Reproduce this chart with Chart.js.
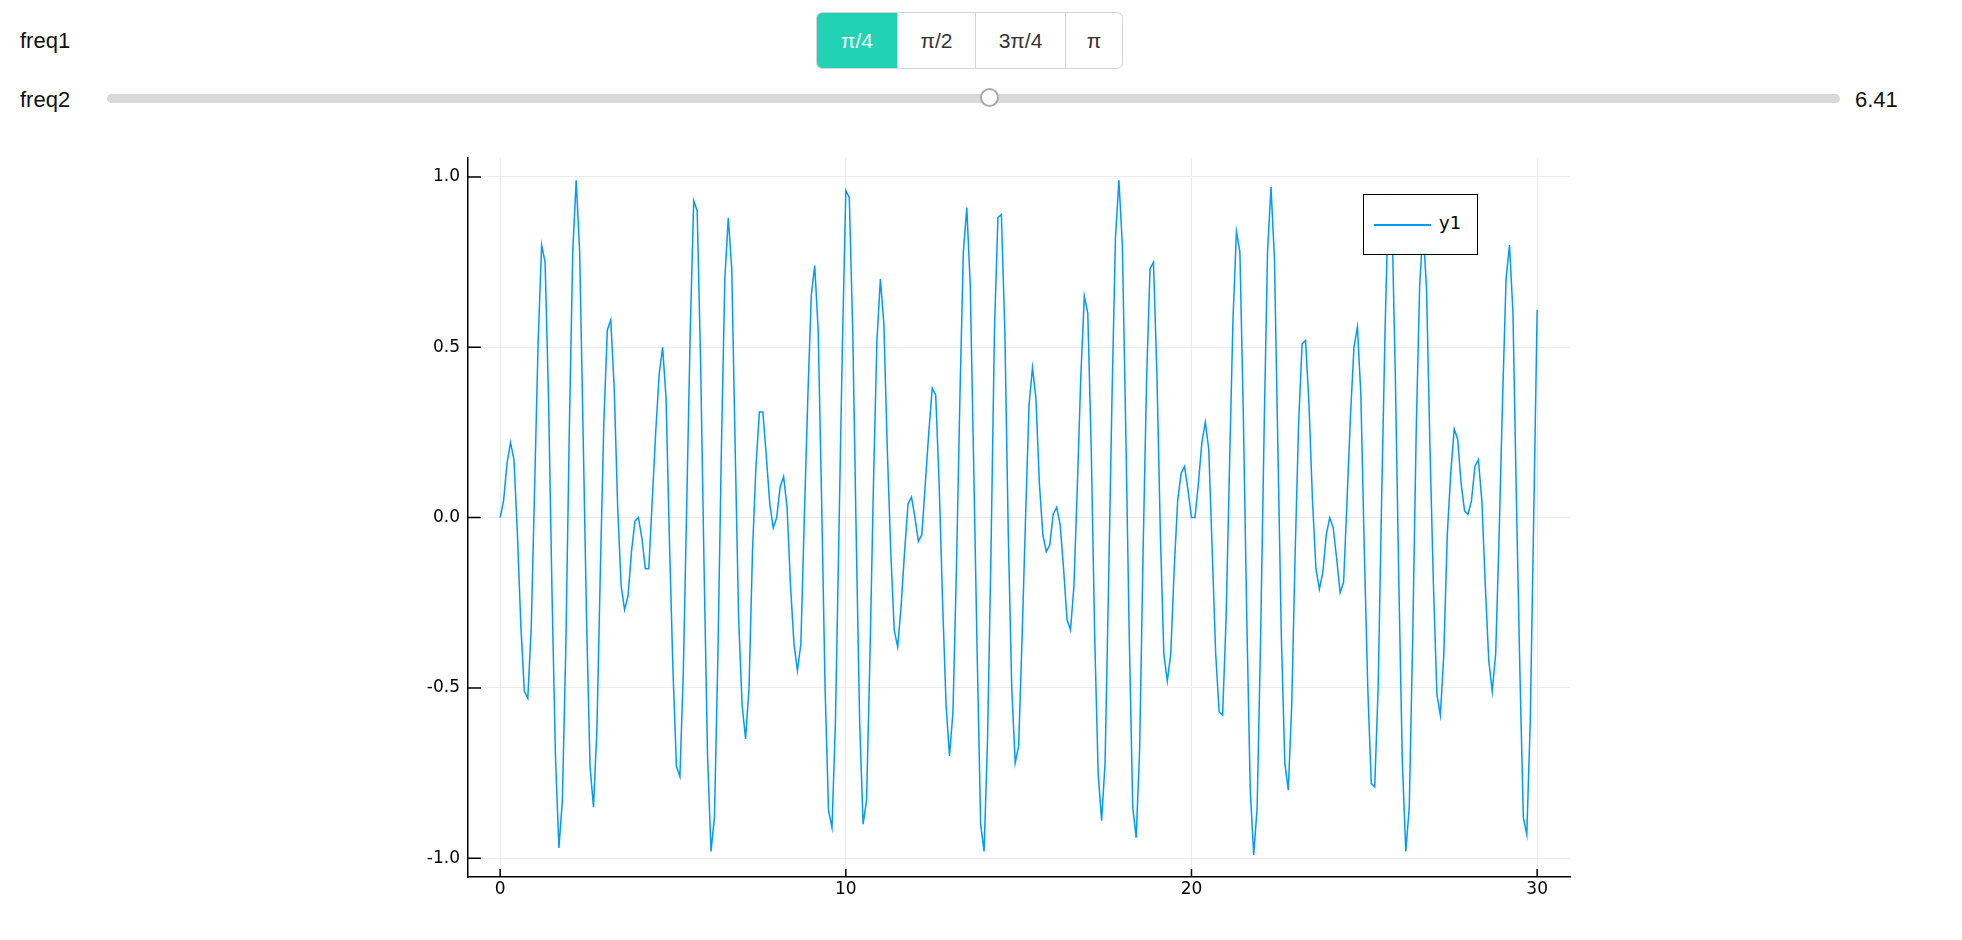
<!DOCTYPE html>
<html>
<head>
<meta charset="UTF-8">
<script src="https://cdn.jsdelivr.net/npm/chart.js"></script>
<style>
  body { margin: 0; width: 1962px; height: 940px; background: #fff; font-family: 'Liberation Sans', Arial, sans-serif; position: relative; overflow: hidden; }
  .lbl { position: absolute; font-size: 22px; color: #111; }
  .btns { position: absolute; left: 816px; top: 12px; height: 55px; display: flex; border: 1px solid #d6d6d6; border-radius: 6px; overflow: hidden; }
  .btns div { display: flex; align-items: center; justify-content: center; font-size: 21px; color: #333; border-left: 1px solid #d6d6d6; }
  .btns div.on { background: #22d2b4; color: #fff; border-left: none; }
  .track { position: absolute; left: 107px; top: 94px; width: 1733px; height: 9px; background: #d9d9d9; border-radius: 5px; }
  .knob { position: absolute; left: 980px; top: 88px; width: 19px; height: 19px; border: 2px solid #aaa; border-radius: 50%; background: #fff; box-sizing: border-box; }
  #wrap { position: absolute; left: 400px; top: 140px; width: 1180px; height: 760px; }
  .legend { position: absolute; left: 1363px; top: 194px; width: 115px; height: 61px; border: 1.5px solid #000; background: #fff; box-sizing: border-box; font-family: 'DejaVu Sans', sans-serif; font-size: 18px; }
  .legend span.ln { position: absolute; left: 10px; top: 29px; width: 57px; height: 2px; background: #009af9; }
  .legend span.tx { position: absolute; left: 75px; top: 17px; }
</style>
</head>
<body>
<div class="lbl" style="left:20px;top:28px">freq1</div>
<div class="lbl" style="left:20px;top:87px">freq2</div>
<div class="btns">
  <div class="on" style="width:80px">π/4</div>
  <div style="width:77px">π/2</div>
  <div style="width:89px">3π/4</div>
  <div style="width:56px">π</div>
</div>
<div class="track"></div>
<div class="knob"></div>
<div class="lbl" style="left:1855px;top:87px">6.41</div>
<div id="wrap"><canvas id="c"></canvas></div>
<div class="legend"><span class="ln"></span><span class="tx">y1</span></div>
<script>
const xStep = 0.1;
const yValues = [
  0, 0.05, 0.16, 0.22, 0.17, -0.05, -0.32, -0.51, -0.53, -0.32,
  0.1, 0.52, 0.80, 0.75, 0.35, -0.22, -0.70, -0.97, -0.83, -0.38,
  0.25, 0.78, 0.99, 0.78, 0.25, -0.30, -0.73, -0.85, -0.62, -0.15,
  0.28, 0.55, 0.58, 0.38, 0.03, -0.20, -0.27, -0.23, -0.10, -0.01,
  0.0, -0.06, -0.15, -0.15, 0.05, 0.25, 0.42, 0.50, 0.35, -0.08,
  -0.45, -0.73, -0.76, -0.45, 0.05, 0.55, 0.93, 0.90, 0.45, -0.15,
  -0.70, -0.98, -0.88, -0.40, 0.20, 0.70, 0.88, 0.73, 0.20, -0.30,
  -0.55, -0.65, -0.50, -0.10, 0.15, 0.31, 0.31, 0.18, 0.04, -0.03,
  0.0, 0.09, 0.12, 0.03, -0.20, -0.37, -0.45, -0.37, 0.0, 0.35,
  0.65, 0.74, 0.55, 0.05, -0.50, -0.86, -0.91, -0.60, -0.05, 0.50,
  0.96, 0.94, 0.55, -0.05, -0.60, -0.90, -0.83, -0.40, 0.10, 0.52,
  0.70, 0.57, 0.20, -0.10, -0.33, -0.38, -0.26, -0.10, 0.04, 0.06,
  0.0, -0.07, -0.05, 0.10, 0.25, 0.38, 0.36, 0.10, -0.25, -0.55,
  -0.70, -0.57, -0.15, 0.35, 0.78, 0.91, 0.68, 0.15, -0.40, -0.90,
  -0.98, -0.65, -0.10, 0.55, 0.88, 0.89, 0.55, -0.05, -0.50, -0.72,
  -0.67, -0.35, 0.0, 0.33, 0.44, 0.35, 0.10, -0.05, -0.10, -0.08,
  0.01, 0.03, -0.02, -0.15, -0.30, -0.33, -0.20, 0.10, 0.42, 0.65,
  0.60, 0.20, -0.35, -0.75, -0.89, -0.72, -0.20, 0.35, 0.82, 0.99,
  0.80, 0.25, -0.35, -0.85, -0.94, -0.68, -0.10, 0.40, 0.73, 0.75,
  0.42, -0.05, -0.40, -0.48, -0.40, -0.15, 0.05, 0.13, 0.15, 0.08,
  0.0, 0.0, 0.10, 0.22, 0.28, 0.20, -0.10, -0.40, -0.57, -0.58,
  -0.30, 0.15, 0.58, 0.84, 0.78, 0.30, -0.30, -0.80, -0.99, -0.85,
  -0.35, 0.25, 0.78, 0.97, 0.76, 0.20, -0.35, -0.72, -0.80, -0.55,
  -0.10, 0.28, 0.51, 0.52, 0.33, 0.05, -0.15, -0.21, -0.16, -0.05,
  0.0, -0.03, -0.12, -0.22, -0.19, 0.05, 0.30, 0.50, 0.56, 0.36,
  -0.10, -0.50, -0.78, -0.79, -0.50, 0.05, 0.55, 0.95, 0.88, 0.40,
  -0.20, -0.72, -0.98, -0.85, -0.35, 0.25, 0.68, 0.85, 0.67, 0.20,
  -0.20, -0.52, -0.58, -0.40, -0.05, 0.13, 0.26, 0.23, 0.10, 0.02,
  0.01, 0.05, 0.15, 0.17, 0.05, -0.20, -0.42, -0.51, -0.40, -0.05,
  0.35, 0.70, 0.80, 0.60, 0.05, -0.45, -0.88, -0.93, -0.60, 0.0,
  0.61
];
const xTicks = [0, 10, 20, 30];
const yTicks = [-1, -0.5, 0, 0.5, 1];

const points = yValues.map((y, i) => ({ x: +(i * xStep).toFixed(1), y: y }));

// short inward tick marks like the reference axes
const innerTicks = {
  id: 'innerTicks',
  afterDraw(chart) {
    const ctx = chart.ctx, a = chart.chartArea;
    const xs = chart.scales.x, ys = chart.scales.y;
    ctx.save();
    ctx.strokeStyle = '#000';
    ctx.lineWidth = 1.5;
    ctx.beginPath();
    xTicks.forEach(t => { const p = xs.getPixelForValue(t); ctx.moveTo(p, a.bottom); ctx.lineTo(p, a.bottom - 8); });
    yTicks.forEach(t => { const p = ys.getPixelForValue(t); ctx.moveTo(a.left, p); ctx.lineTo(a.left + 13, p); });
    ctx.stroke();
    ctx.restore();
  }
};

new Chart(document.getElementById('c'), {
  type: 'line',
  data: { datasets: [{ label: 'y1', data: points, borderColor: '#009af9', borderWidth: 1.5, pointRadius: 0, tension: 0, fill: false }] },
  options: {
    responsive: true, maintainAspectRatio: false, animation: false,
    layout: { padding: { top: 13, right: 10 } },
    plugins: { legend: { display: false }, tooltip: { enabled: false } },
    scales: {
      x: {
        type: 'linear', min: -0.93, max: 30.95,
        afterBuildTicks: s => { s.ticks = xTicks.map(v => ({ value: v })); },
        afterFit: s => { s.height = 23; },
        ticks: { color: '#000', font: { family: 'DejaVu Sans', size: 17 }, padding: 2 },
        grid: { color: '#ebebeb', drawTicks: false },
        border: { color: '#000', width: 1.5 }
      },
      y: {
        min: -1.055, max: 1.055,
        afterBuildTicks: s => { s.ticks = yTicks.map(v => ({ value: v })); },
        afterFit: s => { s.width = 68; },
        ticks: { color: '#000', font: { family: 'DejaVu Sans', size: 17 }, padding: 8, callback: v => v.toFixed(1) },
        grid: { color: '#ebebeb', drawTicks: false },
        border: { color: '#000', width: 1.5 }
      }
    }
  },
  plugins: [innerTicks]
});
</script>
</body>
</html>
